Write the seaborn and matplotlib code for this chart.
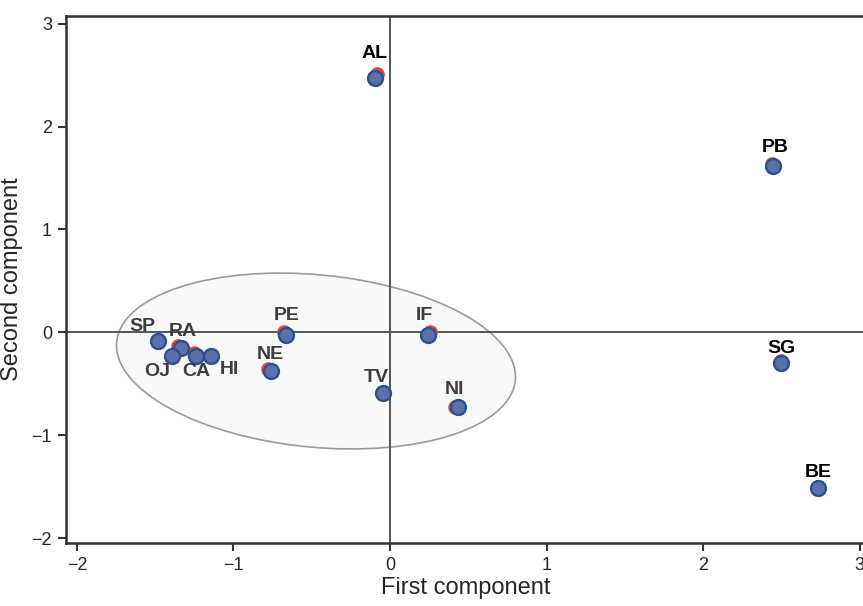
import numpy as np
import pandas as pd
import matplotlib
matplotlib.use('Agg')
import matplotlib.pyplot as plt
import seaborn as sns
from matplotlib.patches import Ellipse

# scores
labels = ['AL', 'PB', 'SG', 'BE', 'SP', 'RA', 'OJ', 'CA', 'HI', 'PE', 'NE', 'TV', 'IF', 'NI']
first = [-0.096, 2.449, 2.496, 2.737, -1.480, -1.337, -1.395, -1.242, -1.144,
         -0.667, -0.762, -0.043, 0.245, 0.432]
second = [2.470, 1.621, -0.299, -1.513, -0.080, -0.153, -0.228, -0.228, -0.225,
          -0.024, -0.371, -0.584, -0.024, -0.720]

# second set of scores (red), almost hidden behind the blue ones
first_b = [-0.084, 2.441, 2.496, 2.737, -1.480, -1.353, -1.395, -1.250, -1.144,
           -0.679, -0.777, -0.043, 0.253, 0.417]
second_b = [2.505, 1.639, -0.275, -1.513, -0.080, -0.135, -0.228, -0.204, -0.225,
            0.000, -0.359, -0.584, 0.000, -0.726]

# samples inside the ellipse
cluster = ['SP', 'RA', 'OJ', 'CA', 'HI', 'PE', 'NE', 'TV', 'IF', 'NI']

data = pd.DataFrame({'label': labels, 'first': first, 'second': second,
                     'first_b': first_b, 'second_b': second_b})

sns.set_style('ticks')
plt.rcParams['font.family'] = ['Liberation Sans', 'DejaVu Sans']

fig = plt.figure(figsize=(8.63, 6.06), dpi=100)
ax = fig.add_axes([66/863, 63/606, 800/863, 527/606])

# group ellipse
ell = Ellipse((-0.473, -0.277), 2.58, 1.66, angle=-11.7,
              facecolor='#f8f9f9', edgecolor='#9a9a9a', lw=1.2, zorder=0.5)
ax.add_patch(ell)

ax.axhline(0, color='#555555', lw=1.4, zorder=1)
ax.axvline(0, color='#555555', lw=1.4, zorder=1)

sns.scatterplot(data=data, x='first_b', y='second_b', color='#e8403a', s=110,
                edgecolor='#e8403a', linewidth=0, ax=ax, zorder=2)
sns.scatterplot(data=data, x='first', y='second', color='#5a72aa', s=115,
                edgecolor='#2d4f8e', linewidth=1.7, ax=ax, zorder=3)

# label offsets in pixels (text centre relative to point)
offsets = {'AL': (0, 27), 'PB': (2, 20), 'SG': (1, 17), 'BE': (0, 18),
           'SP': (-16, 16), 'RA': (2, 19), 'OJ': (-14, -14), 'CA': (1, -14),
           'HI': (18, -12), 'PE': (1, 21), 'NE': (0, 18), 'TV': (-7, 17),
           'IF': (-4, 21), 'NI': (-3, 19)}
for lab, x, y in zip(labels, first, second):
    col = '#3d3d3d' if lab in cluster else 'black'
    ax.annotate(lab, (x, y), xytext=offsets[lab], textcoords='offset pixels',
                ha='center', va='center_baseline', fontsize=14, fontweight='bold',
                color=col, zorder=4)

ax.set_xlim(-2.070, 3.041)
ax.set_ylim(-2.044, 3.073)
ax.set_xticks([-2, -1, 0, 1, 2, 3])
ax.set_yticks([-2, -1, 0, 1, 2, 3])
ax.set_xticklabels(['\u22122', '\u22121', '0', '1', '2', '3'])
ax.set_yticklabels(['\u22122', '\u22121', '0', '1', '2', '3'])

ax.set_xlabel('First component', fontsize=17, labelpad=2)
ax.set_ylabel('Second component', fontsize=17, labelpad=6)
ax.tick_params(axis='both', direction='out', length=6, width=1.5, color='#333333',
               labelsize=13, pad=4)

for side in ['left', 'bottom', 'top']:
    ax.spines[side].set_color('#333333')
    ax.spines[side].set_linewidth(1.8)
ax.spines['right'].set_visible(False)

fig.savefig('out.png', dpi=100)
